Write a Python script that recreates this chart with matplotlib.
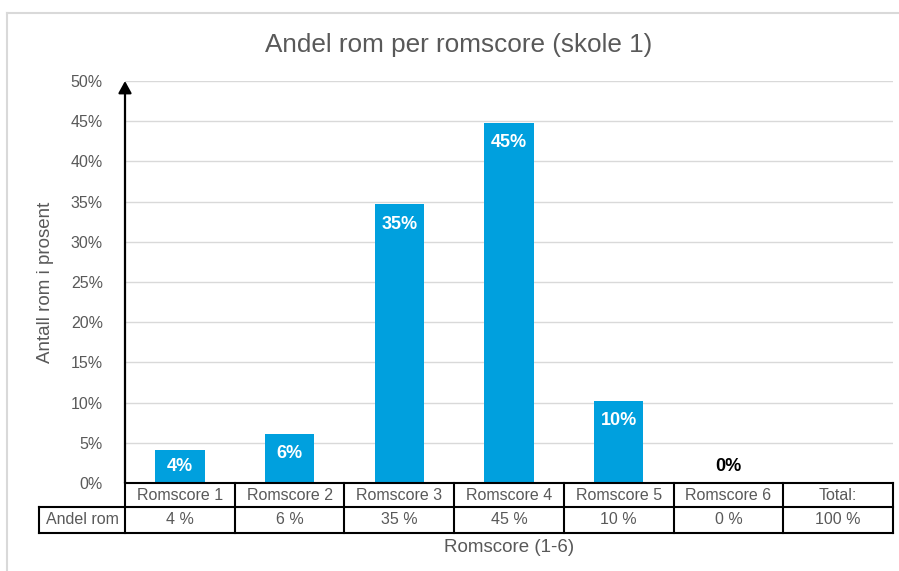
import matplotlib.pyplot as plt
from matplotlib.lines import Line2D

plt.rcParams['font.family'] = ['Liberation Sans', 'DejaVu Sans']

# data
categories = ["Romscore 1", "Romscore 2", "Romscore 3", "Romscore 4", "Romscore 5", "Romscore 6", "Total:"]
shares = [4.1, 6.1, 34.7, 44.8, 10.2, 0.0]          # plotted bars (percent)
table_pct = [4, 6, 35, 45, 10, 0, 100]                # data table row
row_label = "Andel rom"
yticks = [0, 5, 10, 15, 20, 25, 30, 35, 40, 45, 50]

TXT = '#595959'
GRID = '#d9d9d9'
BAR = '#00A0DE'

W, H = 899, 571
fig = plt.figure(figsize=(W / 100, H / 100), dpi=100)


def fx(px):
    return px / W


def fy(py):
    return 1 - py / H


# outer chart border (cut by image edges)
fig.add_artist(Line2D([fx(7), 1.01], [fy(13), fy(13)], transform=fig.transFigure, color=GRID, lw=1.5))
fig.add_artist(Line2D([fx(7), fx(7)], [fy(13), -0.01], transform=fig.transFigure, color=GRID, lw=1.5))

x0, x1, ytop, ybot = 125, 893, 81, 483
ax = fig.add_axes([fx(x0), fy(ybot), fx(x1) - fx(x0), fy(ytop) - fy(ybot)])
xs = list(range(len(shares)))
ax.bar(xs, shares, width=0.45, color=BAR, zorder=3)
ax.set_xlim(-0.5, len(categories) - 0.5)
ax.set_ylim(0, 50)
ax.set_yticks(yticks)
ax.set_yticklabels([f"{t}%" for t in yticks], color=TXT, fontsize=11.5)
ax.tick_params(axis='y', length=0, pad=16)
ax.set_xticks([])
ax.grid(axis='y', color=GRID, lw=1, zorder=0)
for s in ['top', 'right', 'left', 'bottom']:
    ax.spines[s].set_visible(False)

# y axis with arrow
ax.annotate('', xy=(-0.5, 50), xytext=(-0.5, 0),
            arrowprops=dict(arrowstyle='-|>,head_length=0.4,head_width=0.22', color='black',
                            lw=1.6, mutation_scale=18, shrinkA=0, shrinkB=0),
            annotation_clip=False, zorder=5)

# data labels
px_per_unit = (ybot - ytop) / 50
for x, v in zip(xs, shares):
    if v > 0:
        yc = max(v - 20 / px_per_unit, v / 2)
        ax.text(x, yc, f"{round(v)}%", ha='center', va='center', color='white',
                fontsize=13, fontweight='bold', zorder=4)
    else:
        ax.text(x, 2.1, f"{round(v)}%", ha='center', va='center', color='black',
                fontsize=13, fontweight='bold', zorder=4)

ax.set_ylabel("Antall rom i prosent", color=TXT, fontsize=13.5, labelpad=12)

# data table below the plot
tl, tb = 39, 533
col_w = (x1 - x0) / len(categories)
left_x = -0.5 - (x0 - tl) / col_w
tax = fig.add_axes([fx(tl), fy(tb), fx(x1) - fx(tl), fy(ybot) - fy(tb)])
tax.set_xlim(left_x, len(categories) - 0.5)
tax.set_ylim(0, tb - ybot)
tax.axis('off')
mid = 26
top = tb - ybot
kw = dict(color='black', lw=1.5, clip_on=False, solid_capstyle='projecting')
tax.plot([-0.5, len(categories) - 0.5], [top, top], **kw)
tax.plot([left_x, len(categories) - 0.5], [mid, mid], **kw)
tax.plot([left_x, len(categories) - 0.5], [0, 0], **kw)
tax.plot([left_x, left_x], [0, mid], **kw)
for i in range(len(categories) + 1):
    tax.plot([i - 0.5, i - 0.5], [0, top], **kw)
for i, (c, p) in enumerate(zip(categories, table_pct)):
    tax.text(i, (top + mid) / 2, c, ha='center', va='center', color=TXT, fontsize=11.5)
    tax.text(i, mid / 2, f"{p} %", ha='center', va='center', color=TXT, fontsize=11.5)
tax.text((left_x - 0.5) / 2, mid / 2, row_label, ha='center', va='center', color=TXT, fontsize=11.5)

fig.text(fx((x0 + x1) / 2), fy(548), "Romscore (1-6)", ha='center', va='center', color=TXT, fontsize=13.5)
fig.text(fx(459), fy(45), "Andel rom per romscore (skole 1)", ha='center', va='center', color=TXT, fontsize=18.8)

fig.savefig('out.png', dpi=100)
